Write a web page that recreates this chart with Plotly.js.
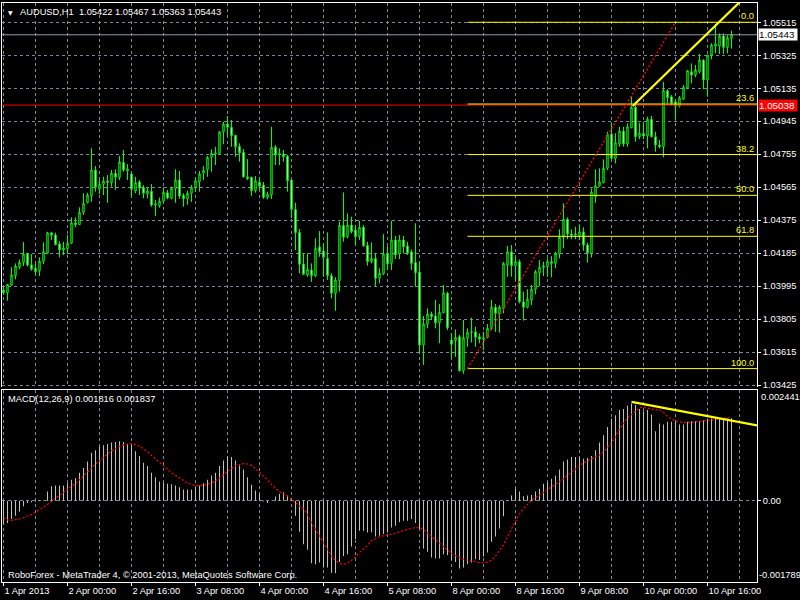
<!DOCTYPE html>
<html><head><meta charset="utf-8">
<script src="https://cdn.plot.ly/plotly-3.0.1.min.js"></script>
<style>html,body{margin:0;padding:0;background:#000;}#chart{width:800px;height:600px;}</style>
</head><body><div id="chart"></div>
<script>
// ---- data (AUDUSD H1, one value per bar) ----
const openP = [
1.03973,1.03957,1.04001,1.04055,1.04103,1.04130,1.04180,1.04118,1.04098,1.04084,
1.04138,1.04184,1.04302,1.04289,1.04238,1.04203,1.04211,1.04242,1.04360,1.04349,
1.04420,1.04476,1.04516,1.04664,1.04556,1.04581,1.04600,1.04591,1.04645,1.04622,
1.04708,1.04658,1.04641,1.04543,1.04595,1.04564,1.04527,1.04541,1.04462,1.04458,
1.04485,1.04533,1.04501,1.04556,1.04606,1.04518,1.04498,1.04530,1.04564,1.04596,
1.04645,1.04666,1.04737,1.04756,1.04760,1.04884,1.04929,1.04910,1.04864,1.04800,
1.04766,1.04625,1.04622,1.04545,1.04593,1.04577,1.04505,1.04520,1.04795,1.04750,
1.04756,1.04744,1.04606,1.04437,1.04305,1.04122,1.04059,1.04088,1.04053,1.04220,
1.04197,1.04155,1.04055,1.03954,1.04027,1.04345,1.04280,1.04347,1.04318,1.04280,
1.04334,1.04230,1.04136,1.04155,1.04040,1.04065,1.04180,1.04126,1.04261,1.04180,
1.04261,1.04226,1.04192,1.04132,1.04076,1.03656,1.03775,1.03834,1.03823,1.03784,
1.03842,1.03954,1.03685,1.03681,1.03704,1.03508,1.03695,1.03729,1.03732,1.03704,
1.03689,1.03700,1.03752,1.03873,1.03834,1.03867,1.04117,1.04193,1.04113,1.04136,
1.03905,1.03873,1.03915,1.03977,1.04072,1.04103,1.04107,1.04136,1.04126,1.04180,
1.04276,1.04380,1.04295,1.04288,1.04284,1.04308,1.04232,1.04184,1.04510,1.04573,
1.04591,1.04674,1.04871,1.04731,1.04814,1.04888,1.04814,1.04908,1.05025,1.04856,
1.04875,1.04860,1.04956,1.04856,1.04808,1.04798,1.05121,1.05086,1.05057,1.05032,
1.05071,1.05136,1.05230,1.05211,1.05230,1.05297,1.05182,1.05326,1.05377,1.05377,
1.05436,1.05370,1.05422];
const highP = [
1.03990,1.04007,1.04103,1.04126,1.04149,1.04249,1.04187,1.04180,1.04126,1.04161,
1.04247,1.04308,1.04308,1.04303,1.04253,1.04251,1.04289,1.04391,1.04391,1.04449,
1.04530,1.04533,1.04789,1.04687,1.04606,1.04625,1.04635,1.04664,1.04668,1.04745,
1.04779,1.04698,1.04648,1.04625,1.04606,1.04577,1.04564,1.04583,1.04491,1.04505,
1.04564,1.04549,1.04568,1.04668,1.04658,1.04530,1.04545,1.04577,1.04622,1.04658,
1.04687,1.04745,1.04783,1.04798,1.04890,1.04942,1.04975,1.04952,1.04864,1.04818,
1.04785,1.04727,1.04625,1.04629,1.04618,1.04596,1.04539,1.04913,1.04808,1.04789,
1.04779,1.04750,1.04606,1.04475,1.04324,1.04180,1.04184,1.04126,1.04270,1.04312,
1.04242,1.04305,1.04069,1.04046,1.04366,1.04535,1.04414,1.04395,1.04347,1.04372,
1.04347,1.04251,1.04247,1.04184,1.04098,1.04295,1.04226,1.04372,1.04284,1.04289,
1.04284,1.04251,1.04207,1.04357,1.04136,1.03823,1.03867,1.03848,1.03915,1.03892,
1.04001,1.03963,1.03723,1.03746,1.03714,1.03800,1.03752,1.03813,1.03761,1.03723,
1.03732,1.03777,1.03915,1.03892,1.03886,1.04134,1.04226,1.04232,1.04165,1.04149,
1.03963,1.03977,1.04001,1.04088,1.04145,1.04136,1.04155,1.04168,1.04193,1.04322,
1.04472,1.04391,1.04322,1.04337,1.04351,1.04334,1.04245,1.04558,1.04668,1.04674,
1.04725,1.04884,1.04939,1.04875,1.04913,1.04913,1.04933,1.05086,1.05044,1.04936,
1.04942,1.04971,1.04975,1.04884,1.04837,1.05172,1.05129,1.05096,1.05071,1.05090,
1.05153,1.05240,1.05278,1.05269,1.05332,1.05301,1.05326,1.05394,1.05505,1.05451,
1.05451,1.05441,1.05467];
const lowP = [
1.03944,1.03911,1.03996,1.04034,1.04092,1.04111,1.04107,1.04084,1.04059,1.04053,
1.04122,1.04180,1.04261,1.04230,1.04161,1.04174,1.04180,1.04238,1.04334,1.04347,
1.04405,1.04472,1.04481,1.04539,1.04524,1.04520,1.04475,1.04568,1.04549,1.04606,
1.04654,1.04606,1.04510,1.04530,1.04520,1.04501,1.04501,1.04452,1.04399,1.04447,
1.04472,1.04495,1.04495,1.04475,1.04498,1.04452,1.04464,1.04480,1.04539,1.04539,
1.04606,1.04625,1.04654,1.04693,1.04750,1.04812,1.04860,1.04798,1.04740,1.04712,
1.04620,1.04606,1.04514,1.04533,1.04549,1.04497,1.04495,1.04497,1.04693,1.04693,
1.04712,1.04539,1.04386,1.04203,1.04069,1.04059,1.04049,1.04020,1.04049,1.04164,
1.04049,1.04030,1.03925,1.03853,1.03963,1.04251,1.04270,1.04299,1.04232,1.04261,
1.04222,1.04113,1.04126,1.03992,1.04011,1.04059,1.04088,1.04088,1.04151,1.04151,
1.04184,1.04174,1.04088,1.03992,1.03608,1.03541,1.03752,1.03800,1.03752,1.03666,
1.03838,1.03742,1.03579,1.03588,1.03502,1.03490,1.03646,1.03670,1.03646,1.03666,
1.03627,1.03694,1.03742,1.03732,1.03727,1.03838,1.04049,1.04049,1.04030,1.03896,
1.03796,1.03867,1.03886,1.03948,1.03996,1.04053,1.04049,1.04046,1.04098,1.04155,
1.04213,1.04265,1.04265,1.04265,1.04261,1.04199,1.04130,1.04159,1.04475,1.04568,
1.04587,1.04664,1.04725,1.04702,1.04798,1.04798,1.04798,1.04904,1.04827,1.04841,
1.04841,1.04789,1.04852,1.04769,1.04789,1.04737,1.05048,1.05038,1.04948,1.05025,
1.05067,1.05129,1.05163,1.05198,1.05221,1.05129,1.05086,1.05301,1.05336,1.05332,
1.05332,1.05336,1.05363];
const closeP = [
1.03957,1.04005,1.04059,1.04111,1.04132,1.04180,1.04117,1.04092,1.04078,1.04138,
1.04192,1.04303,1.04288,1.04234,1.04203,1.04215,1.04242,1.04360,1.04349,1.04420,
1.04472,1.04520,1.04664,1.04564,1.04581,1.04600,1.04593,1.04645,1.04622,1.04710,
1.04664,1.04670,1.04553,1.04591,1.04559,1.04530,1.04543,1.04462,1.04468,1.04485,
1.04535,1.04503,1.04559,1.04606,1.04514,1.04498,1.04530,1.04564,1.04602,1.04641,
1.04662,1.04737,1.04760,1.04763,1.04883,1.04929,1.04910,1.04861,1.04798,1.04763,
1.04625,1.04614,1.04545,1.04602,1.04572,1.04507,1.04524,1.04795,1.04750,1.04760,
1.04740,1.04602,1.04437,1.04303,1.04121,1.04063,1.04092,1.04055,1.04213,1.04192,
1.04161,1.04055,1.03954,1.04030,1.04345,1.04276,1.04347,1.04308,1.04280,1.04334,
1.04228,1.04136,1.04155,1.04040,1.04069,1.04180,1.04122,1.04261,1.04174,1.04261,
1.04222,1.04184,1.04126,1.04072,1.03656,1.03777,1.03834,1.03819,1.03784,1.03844,
1.03957,1.03755,1.03660,1.03700,1.03508,1.03698,1.03729,1.03732,1.03700,1.03689,
1.03698,1.03752,1.03873,1.03838,1.03873,1.04126,1.04193,1.04113,1.04136,1.03905,
1.03873,1.03919,1.03977,1.04078,1.04103,1.04111,1.04136,1.04126,1.04184,1.04276,
1.04380,1.04295,1.04288,1.04295,1.04308,1.04232,1.04184,1.04537,1.04573,1.04596,
1.04674,1.04867,1.04731,1.04821,1.04888,1.04814,1.04913,1.05025,1.04856,1.04875,
1.04860,1.04956,1.04856,1.04808,1.04798,1.05121,1.05080,1.05048,1.05032,1.05080,
1.05140,1.05236,1.05211,1.05240,1.05297,1.05182,1.05326,1.05384,1.05390,1.05436,
1.05370,1.05426,1.05443];
const macdHist = [
-0.000512,-0.000490,-0.000402,-0.000328,-0.000239,-0.000121,-0.000047,-0.000032,-0.000018,-0.000010,
0.000012,0.000204,0.000322,0.000337,0.000337,0.000337,0.000388,0.000462,0.000499,0.000617,
0.000720,0.000868,0.001060,0.001112,0.001186,0.001222,0.001252,0.001282,0.001296,0.001311,
0.001296,0.001259,0.001222,0.001090,0.000986,0.000839,0.000765,0.000617,0.000521,0.000425,
0.000396,0.000374,0.000366,0.000337,0.000300,0.000248,0.000248,0.000248,0.000300,0.000337,
0.000388,0.000462,0.000558,0.000617,0.000765,0.000890,0.000986,0.000964,0.000890,0.000780,
0.000691,0.000521,0.000351,0.000226,0.000152,-0.000018,-0.000047,0.000004,0.000093,0.000152,
0.000189,0.000115,0.000027,-0.000328,-0.000682,-0.000955,-0.001081,-0.001376,-0.001398,-0.001361,
-0.001472,-0.001472,-0.001583,-0.001597,-0.001346,-0.001214,-0.001177,-0.001007,-0.000845,-0.000660,
-0.000660,-0.000697,-0.000697,-0.000785,-0.000771,-0.000734,-0.000697,-0.000586,-0.000549,-0.000475,
-0.000438,-0.000438,-0.000402,-0.000490,-0.000623,-0.001051,-0.001125,-0.001251,-0.001273,-0.001273,
-0.001177,-0.001199,-0.001302,-0.001346,-0.001494,-0.001472,-0.001398,-0.001361,-0.001287,-0.001302,
-0.001228,-0.001140,-0.000904,-0.000785,-0.000608,-0.000343,0.000010,0.000115,0.000263,0.000204,
0.000100,0.000115,0.000130,0.000204,0.000263,0.000374,0.000410,0.000484,0.000558,0.000691,
0.000868,0.000912,0.000964,0.000964,0.000964,0.000927,0.000942,0.000986,0.001112,0.001282,
0.001444,0.001628,0.001813,0.001887,0.001998,0.002020,0.002094,0.002145,0.002108,0.002020,
0.001975,0.001998,0.001902,0.001533,0.001702,0.001680,0.001739,0.001739,0.001739,0.001680,
0.001680,0.001739,0.001754,0.001754,0.001754,0.001776,0.001813,0.001813,0.001828,0.001813,
0.001813,0.001813,0.001816];
const macdSignal = [
-0.00037,-0.00042,-0.00043,-0.00042,-0.00040,-0.00037,-0.00034,-0.00030,-0.00025,-0.00020,
-0.00014,-0.00008,-0.00001,0.00006,0.00013,0.00020,0.00026,0.00032,0.00038,0.00046,
0.00054,0.00062,0.00072,0.00081,0.00089,0.00096,0.00103,0.00110,0.00116,0.00120,
0.00123,0.00125,0.00126,0.00124,0.00120,0.00115,0.00108,0.00100,0.00094,0.00086,
0.00077,0.00068,0.00062,0.00056,0.00050,0.00043,0.00039,0.00036,0.00034,0.00034,
0.00034,0.00036,0.00040,0.00044,0.00050,0.00058,0.00064,0.00071,0.00077,0.00080,
0.00082,0.00081,0.00078,0.00071,0.00063,0.00056,0.00046,0.00036,0.00028,0.00020,
0.00015,0.00011,0.00003,-0.00004,-0.00012,-0.00018,-0.00030,-0.00049,-0.00063,-0.00078,
-0.00092,-0.00106,-0.00121,-0.00132,-0.00138,-0.00140,-0.00137,-0.00131,-0.00124,-0.00114,
-0.00107,-0.00098,-0.00088,-0.00083,-0.00079,-0.00077,-0.00075,-0.00073,-0.00072,-0.00068,
-0.00065,-0.00063,-0.00061,-0.00059,-0.00059,-0.00063,-0.00071,-0.00078,-0.00085,-0.00093,
-0.00100,-0.00108,-0.00116,-0.00121,-0.00125,-0.00129,-0.00131,-0.00133,-0.00135,-0.00136,
-0.00136,-0.00135,-0.00131,-0.00122,-0.00109,-0.00097,-0.00078,-0.00062,-0.00045,-0.00029,
-0.00017,-0.00008,0.00001,0.00007,0.00013,0.00018,0.00025,0.00030,0.00035,0.00041,
0.00048,0.00056,0.00063,0.00071,0.00079,0.00084,0.00088,0.00092,0.00096,0.00101,
0.00108,0.00117,0.00128,0.00141,0.00158,0.00170,0.00182,0.00190,0.00197,0.00205,
0.00207,0.00204,0.00202,0.00201,0.00200,0.00195,0.00186,0.00180,0.00176,0.00174,
0.00173,0.00172,0.00173,0.00174,0.00175,0.00176,0.00177,0.00178,0.00179,0.00180,
0.00181,0.00182,0.001837];

const timeTickBars = [0,16,32,48,64,80,96,112,128,144,160,176];
const timeTickLabels = ['1 Apr 2013','2 Apr 00:00','2 Apr 16:00','3 Apr 08:00','4 Apr 00:00','4 Apr 16:00','5 Apr 08:00','8 Apr 00:00','8 Apr 16:00','9 Apr 08:00','10 Apr 00:00','10 Apr 16:00'];
const gridBars = [8,24,40,56,72,88,104,120,136,152,168,184];
const priceTicks = [1.03425,1.03615,1.03805,1.03995,1.04185,1.04375,1.04565,1.04755,1.04945,1.05135,1.05325,1.05515];
const macdTickTop = 0.002441, macdTickBottom = -0.001789;

// chart objects
const fibLabels = ['0.0','23.6','38.2','50.0','61.8','100.0'];
const fibPrices = [1.05515,1.05044,1.04753,1.04518,1.04282,1.03520];
const fibAnchorBars = [116,168];
const fibAnchorPrices = [1.03520,1.05515];
const trendBars = [157.3,186];
const trendPrices = [1.05033,1.05675];
const macdTrendBars = [157,190];
const macdTrendValues = [0.00218,0.001635];
const bidPrice = 1.05443;
const hLinePrice = 1.05038;
const header = 'AUDUSD,H1\u00a0\u00a01.05422 1.05467 1.05363 1.05443';
const macdHeader = 'MACD(12,26,9) 0.001816 0.001837';
const footer = 'RoboForex - MetaTrader 4, \u00a9 2001-2013, MetaQuotes Software Corp.';

// ---- build ----
const bars = openP.map((_, i) => i);
const xr = [-0.375, 188.375];
const GRID = '#778899', FONT = 'Liberation Sans', FS = 9.3;

const fibX = [], fibY = [];
fibPrices.forEach(p => { fibX.push(fibAnchorBars[0], 195, null); fibY.push(p, p, null); });

const traces = [
  {type:'candlestick', x:bars, open:openP, high:highP, low:lowP, close:closeP,
   xaxis:'x', yaxis:'y', whiskerwidth:0,
   increasing:{line:{color:'#00ff00', width:1}, fillcolor:'#000000'},
   decreasing:{line:{color:'#00ff00', width:1}, fillcolor:'#ffffff'}},
  {type:'scatter', mode:'lines', x:[-5,195], y:[bidPrice,bidPrice], xaxis:'x', yaxis:'y',
   line:{color:'#8f9bab', width:1}},
  {type:'scatter', mode:'lines', x:[-5,195], y:[hLinePrice,hLinePrice], xaxis:'x', yaxis:'y',
   line:{color:'#ff0000', width:1}},
  {type:'scatter', mode:'lines', x:fibX, y:fibY, xaxis:'x', yaxis:'y',
   line:{color:'#ffff00', width:1}, connectgaps:false},
  {type:'scatter', mode:'lines', x:fibAnchorBars, y:fibAnchorPrices, xaxis:'x', yaxis:'y',
   line:{color:'#ff0000', width:1.4, dash:'2px,2px'}},
  {type:'scatter', mode:'lines', x:trendBars, y:trendPrices, xaxis:'x', yaxis:'y',
   line:{color:'#ffff00', width:2.2}},
  {type:'bar', x:bars, y:macdHist, xaxis:'x2', yaxis:'y2', width:0.25,
   marker:{color:'#c0c0c0', line:{width:0}}},
  {type:'scatter', mode:'lines', x:bars, y:macdSignal, xaxis:'x2', yaxis:'y2',
   line:{color:'#ff0000', width:1.2, dash:'2px,2px'}},
  {type:'scatter', mode:'lines', x:macdTrendBars, y:macdTrendValues, xaxis:'x2', yaxis:'y2',
   line:{color:'#ffff00', width:2.2}}
];

const gridCommon = {showgrid:true, gridcolor:GRID, gridwidth:1, griddash:'3px,3px'};
const minorGrid = {tickmode:'array', tickvals:gridBars, showgrid:true, gridcolor:GRID, gridwidth:1, griddash:'3px,3px', ticks:''};

const annotations = [
  {xref:'paper', yref:'paper', x:0, y:1, xanchor:'left', yanchor:'top', xshift:4, yshift:-4,
   text:'\u25BC', showarrow:false, font:{family:'DejaVu Sans', size:6, color:'#ffffff'}},
  {xref:'paper', yref:'paper', x:0, y:1, xanchor:'left', yanchor:'top', xshift:16, yshift:-2,
   text:header, showarrow:false, font:{family:FONT, size:FS, color:'#ffffff'}},
  {xref:'paper', yref:'paper', x:0, y:0.33161, xanchor:'left', yanchor:'top', xshift:4, yshift:-2,
   text:macdHeader, showarrow:false, font:{family:FONT, size:FS, color:'#ffffff'}},
  {xref:'paper', yref:'paper', x:0, y:0, xanchor:'left', yanchor:'bottom', xshift:4, yshift:0,
   text:footer, showarrow:false, font:{family:FONT, size:FS, color:'#ffffff'}},
  {xref:'paper', yref:'y', x:1, y:bidPrice, xanchor:'left', yanchor:'middle', xshift:1,
   text:bidPrice.toFixed(5)+' ', showarrow:false, bgcolor:'#ffffff', borderpad:0,
   font:{family:FONT, size:FS+0.5, color:'#000000'}},
  {xref:'paper', yref:'y', x:1, y:hLinePrice, xanchor:'left', yanchor:'middle', xshift:1,
   text:hLinePrice.toFixed(5)+' ', showarrow:false, bgcolor:'#ff0000', borderpad:0,
   font:{family:FONT, size:FS+0.5, color:'#ffffff'}},
  {xref:'paper', yref:'y2', x:1, y:macdTickTop, xanchor:'left', yanchor:'top', xshift:2,
   text:macdTickTop.toFixed(6), showarrow:false, font:{family:FONT, size:FS, color:'#ffffff'}},
  {xref:'paper', yref:'y2', x:1, y:macdTickBottom, xanchor:'left', yanchor:'bottom', xshift:0,
   text:macdTickBottom.toFixed(6), showarrow:false, font:{family:FONT, size:FS, color:'#ffffff'}}
];
fibLabels.forEach((t, i) => annotations.push({
  xref:'paper', yref:'y', x:1, y:fibPrices[i], xanchor:'right', yanchor:'bottom', xshift:-1, yshift:-1,
  text:t, showarrow:false, font:{family:FONT, size:FS, color:'#ffff00'}}));

const layout = {
  width:800, height:600, paper_bgcolor:'#000000', plot_bgcolor:'#000000',
  margin:{l:2, r:43, t:3, b:18, pad:0}, showlegend:false, hovermode:false,
  font:{family:FONT, size:FS, color:'#ffffff'}, boxgap:0.5,
  xaxis:Object.assign({domain:[0,1], anchor:'y', range:xr, side:'top',
    tickmode:'array', tickvals:timeTickBars, showticklabels:false, ticks:'',
    showline:true, linecolor:'#ffffff', linewidth:1, zeroline:false,
    rangeslider:{visible:false}, minor:minorGrid}, gridCommon),
  yaxis:Object.assign({domain:[0.33679,1], anchor:'x', range:[1.03414,1.05626], side:'right',
    tickmode:'array', tickvals:priceTicks, ticktext:priceTicks.map(v => v.toFixed(5)),
    ticks:'outside', ticklen:3, tickcolor:'#ffffff', tickfont:{family:FONT, size:FS, color:'#ffffff'},
    showline:true, mirror:true, linecolor:'#ffffff', linewidth:1, zeroline:false}, gridCommon),
  xaxis2:Object.assign({domain:[0,1], anchor:'y2', range:xr,
    tickmode:'array', tickvals:timeTickBars, ticktext:timeTickLabels,
    ticklabelposition:'outside right', ticks:'outside', ticklen:3, tickcolor:'#ffffff',
    tickfont:{family:FONT, size:FS, color:'#ffffff'},
    showline:true, mirror:true, linecolor:'#ffffff', linewidth:1, zeroline:false,
    minor:minorGrid}, gridCommon),
  yaxis2:Object.assign({domain:[0,0.33161], anchor:'x2', range:[macdTickBottom, macdTickTop], side:'right',
    tickmode:'array', tickvals:[0], ticktext:['0.00'],
    ticks:'outside', ticklen:3, tickcolor:'#ffffff', tickfont:{family:FONT, size:FS, color:'#ffffff'},
    showline:true, mirror:true, linecolor:'#ffffff', linewidth:1, zeroline:false}, gridCommon),
  annotations:annotations
};

Plotly.newPlot('chart', traces, layout, {staticPlot:true, displayModeBar:false});
</script></body></html>
